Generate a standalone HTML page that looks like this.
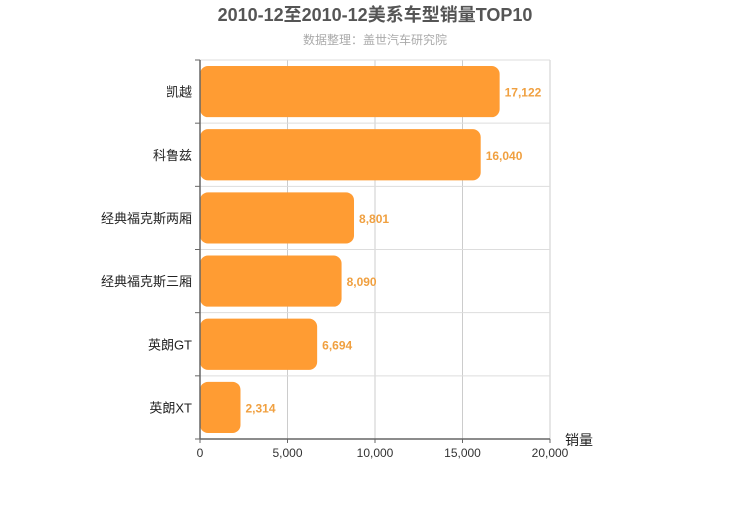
<!DOCTYPE html>
<html><head><meta charset="utf-8"><style>
body{margin:0;background:#fff;width:750px;height:500px;overflow:hidden;font-family:"Liberation Sans","Noto Sans CJK SC",sans-serif}
</style></head><body>
<svg id="c" width="750" height="500" xmlns="http://www.w3.org/2000/svg">
<text x="375" y="21" text-anchor="middle" font-size="18" font-weight="bold" fill="#555" font-family="Liberation Sans,Noto Sans CJK SC,sans-serif">2010-12至2010-12美系车型销量TOP10</text>
<text x="375" y="44" text-anchor="middle" font-size="12" fill="#aaa" font-family="Liberation Sans,Noto Sans CJK SC,sans-serif">数据整理：盖世汽车研究院</text>
<g id="g"></g>
</svg>
<script>
const categories=["凯越","科鲁兹","经典福克斯两厢","经典福克斯三厢","英朗GT","英朗XT"];
const values=[17122,16040,8801,8090,6694,2314];
const ticks=[0,5000,10000,15000,20000];
const X0=200,X1=550,Y0=60,Y1=439,MAX=20000;
const ns="http://www.w3.org/2000/svg",g=document.getElementById('g');
const xs=v=>X0+(X1-X0)*v/MAX;
const rh=(Y1-Y0)/categories.length;
const ys=i=>Y0+rh*i;
function mk(t,a){const e=document.createElementNS(ns,t);for(const k in a)e.setAttribute(k,a[k]);g.appendChild(e);return e;}
const fmt=v=>v.toLocaleString('en-US');
ticks.forEach((t,i)=>{const l=mk('line',{x1:xs(t),x2:xs(t),y1:Y0,y2:Y1,stroke:'#ccc'});

const tx=mk('text',{x:xs(t),y:Y1+18,'text-anchor':'middle','font-size':12,fill:'#333'});tx.textContent=fmt(t);

const tk=mk('line',{x1:xs(t),x2:xs(t),y1:Y1,y2:Y1+4,stroke:'#666'});
});
for(let i=0;i<=categories.length;i++){const l=mk('line',{x1:X0,x2:X1,y1:ys(i),y2:ys(i),stroke:'#ddd'});

const tk=mk('line',{x1:X0-5,x2:X0,y1:ys(i),y2:ys(i),stroke:'#666'});
}
categories.forEach((c,i)=>{const y=ys(i);
const b=mk('rect',{x:X0,y:y+6,width:xs(values[i])-X0,height:rh-12,rx:8,fill:'#ff9c33'});

const l=mk('text',{x:X0-8,y:y+rh/2+5,'text-anchor':'end','font-size':13,fill:'#222'});l.textContent=c;

const v=mk('text',{x:xs(values[i])+5,y:y+rh/2+5,'font-size':12,'font-weight':'bold',fill:'#f0a040'});v.textContent=fmt(values[i]);
});
const ax=mk('line',{x1:X0,x2:X1,y1:Y1,y2:Y1,stroke:'#666','stroke-width':1.5});

const ay=mk('line',{x1:X0,x2:X0,y1:Y0,y2:Y1,stroke:'#666','stroke-width':1.5});

const at=mk('text',{x:565,y:445,'font-size':14,fill:'#222'});at.textContent='销量';

</script>
</body></html>
